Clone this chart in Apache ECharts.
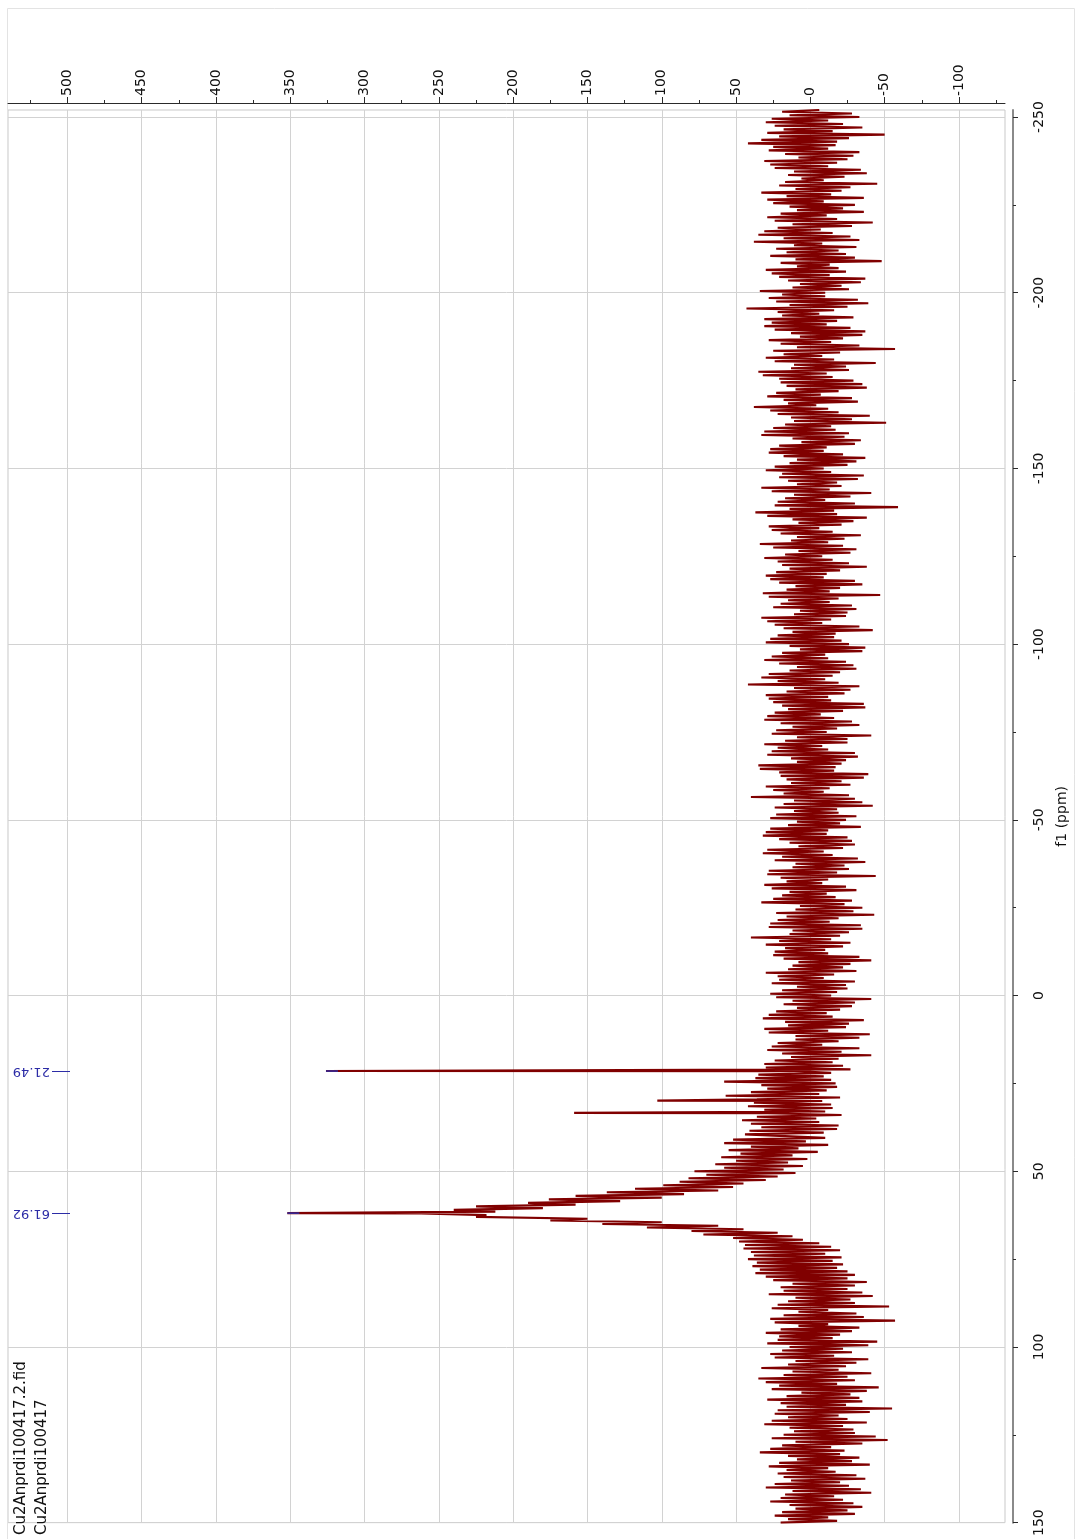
<!DOCTYPE html>
<html>
<head>
<meta charset="utf-8">
<title>f1 spectrum</title>
<script src="https://cdn.jsdelivr.net/npm/echarts@6/dist/echarts.min.js"></script>
<style>
  html, body { margin: 0; padding: 0; background: #ffffff; }
  #chart { width: 1077px; height: 1539px; }
</style>
</head>
<body>
<div id="chart"></div>
<script>
// ---- spectrum data (f1 in ppm, intensity in arbitrary units) ----

// upfield region: -252 ppm onwards, two points per ppm
const upfieldStart = -252;
const upfieldStep = 0.5;
const upfieldIntensity = [
  -6, 19, -28, 14, -33, 26, -12, 30, -22, 24, -35, 18, -15, 29, -50, 21, -26, 33, -18, 42,
  -17, 25, -12, 28, -33, 17, -29, 8, -25, 31, -18, 27, -12, 24, -34, 11, -38, 15, -23, 6,
  -9, 17, -45, 21, -27, 10, -21, 33, -14, 16, -36, 29, -9, 25, -30, 14, -22, 9, -36, 20,
  -11, 29, -18, 24, -42, 12, -28, 22, -7, 31, -15, 35, -27, 18, -33, 38, -8, 11, -31, 23,
  -19, 16, -24, 27, -30, 10, -48, 20, -13, 9, -19, 30, -24, 26, -13, 21, -37, 15, -34, 7,
  -21, 12, -26, 34, -10, 19, -10, 28, -32, 23, -39, 14, -25, 43, -16, 22, -6, 19, -29, 31,
  -18, 26, -11, 31, -27, 24, -37, 13, -35, 7, -22, 28, -14, 20, -33, 9, -57, 25, -20, 18,
  -8, 30, -16, 24, -44, 11, -24, 13, -26, 35, -11, 32, -15, 21, -29, 20, -35, 16, -38, 10,
  -19, 23, -7, 29, -28, 18, -32, 15, -4, 38, -12, 27, -19, 22, -40, 13, -28, 11, -51, 17,
  -14, 25, -17, 31, -26, 33, -23, 12, -34, 6, -30, 21, -11, 27, -9, 28, -22, 18, -37, 9,
  -31, 14, -25, 24, -9, 30, -14, 19, -36, 21, -32, 15, -18, 9, -21, 33, -13, 26, -41, 11,
  -27, 17, -10, 22, -30, 24, -59, 14, -16, 37, -18, 29, -38, 12, -29, 8, -21, 28, -6, 26,
  -15, 20, -34, 9, -23, 13, -12, 34, -22, 25, -31, 8, -27, 17, -8, 31, -15, 22, -26, 19,
  -38, 14, -20, 23, -11, 30, -9, 27, -30, 21, -35, 10, -20, 16, -13, 32, -47, 28, -19, 15,
  -13, 20, -28, 25, -31, 7, -25, 11, -24, 33, -14, 29, -8, 24, -33, 18, -42, 12, -17, 22,
  -16, 27, -21, 30, -26, 14, -37, 7, -35, 19, -10, 26, -12, 31, -24, 21, -29, 9, -31, 14,
  -20, 28, -15, 33, -10, 22, -19, 42, -33, 11, -27, 16, -23, 30, -12, 28, -14, 25, -36, 19,
  -37, 15, -22, 24, -7, 29, -16, 31, -28, 20, -33, 12, -18, 23, -11, 26, -41, 9, -25, 17,
  -25, 31, -8, 22, -12, 26, -30, 29, -32, 13, -24, 9, -21, 35, -17, 34, -16, 21, -39, 20,
  -36, 16, -21, 13, -27, 30, -13, 25, -9, 18, -26, 40, -30, 11, -35, 18, -42, 24, -18, 11,
  -19, 23, -31, 27, -24, 9, -20, 15, -34, 27, -12, 30, -11, 32, -25, 21, -28, 14, -30, 8,
  -22, 29, -9, 32, -15, 19, -32, 24, -37, 10, -23, 12, -26, 28, -18, 29, -44, 20, -12, 16,
  -8, 31, -24, 26, -31, 14, -11, 19, -17, 25, -28, 33, -23, 7, -35, 10, -29, 23, -43, 16,
  -19, 22, -13, 27, -34, 28, -35, 12, -26, 14, -20, 40, -14, 21, -27, 30, -22, 17, -10, 24,
  -12, 25, -33, 18, -41, 8, -27, 12, -22, 15, -31, 30, -16, 22, -9, 21, -30, 26, -24, 9,
  -25, 19, -18, 27, -14, 23, -41, 12, -30, 18, -28, 9, -20, 23, -11, 28, -15, 32, -36, 17,
  -26, 15, -24, 31, -12, 28, -40, 10, -33, 10, -19, 22, -8, 26, -33, 29, -21, 19, -41, 13,
  -19, 24, -15, 31, -22, 30, -27, 11, -14, 35, -9, 37, -14, 58, -17, 33, -18, 29, -11, 40,
  -6, 57, -20, 36, -8, 38, -14, 42, -15, 31, -10, 29, -21, 36, -4, 46, -6, 40, -19, 33,
  -18, 41, -9, 44
];

// broad resonance around 62 ppm: 40 ppm onwards, two points per ppm
const humpStart = 40;
const humpStep = 0.5;
const humpIntensity = [
  45, -10, 52, 3, 58, -12, 40, 8, 55, -5,
  47, 12, 60, 2, 50, 15, 64, 5, 58, 18,
  78, 10, 70, 22, 82, 30, 88, 45, 99, 52,
  118, 62, 137, 85, 158, 100, 176, 128, 190, 158,
  225, 180, 240, 212, 262, 218, 225, 150, 175, 100,
  140, 62, 110, 45, 80, 22, 72, 12, 52, 5,
  48, -6, 44, -14, 45, -20, 40, -10, 38, -21,
  42, -15, 36, -22, 39, -18, 34, -25, 37, -30,
  30
];

// downfield region: 80.5 ppm onwards, two points per ppm
const downfieldStart = 80.5;
const downfieldStep = 0.5;
const downfieldIntensity = [
  -25, 25, -38, 12, -30, 20, -25, 18, -35, 28, -42, 10, -27, 15, -30, 22, -53, 26, -12, 8,
  -31, 18, -36, 27, -57, 24, -12, 8, -33, 20, -28, 30, -20, 21, -15, 22, -45, 29, -39, 14,
  -22, 19, -28, 27, -16, 24, -39, 10, -31, 15, -24, 33, -19, 12, -41, 18, -25, 35, -30, 30,
  -18, 21, -46, 26, -38, 6, -27, 16, -33, 29, -35, 20, -24, 16, -55, 22, -40, 24, -19, 15,
  -25, 26, -38, 31, -22, 14, -29, 11, -30, 18, -44, 26, -52, 10, -35, 19, -14, 27, -23, 34,
  -20, 15, -33, 9, -28, 21, -40, 28, -12, 16, -17, 22, -31, 18, -37, 13, -20, 24, -26, 30,
  -34, 12, -41, 17, -16, 20, -22, 27, -29, 14, -35, 10, -25, 19, -30, 24, -12, 15, -18, 20
];

// sharp lines
const spikePpm = [21.49, 29.9, 33.4, 61.92];
const spikeIntensity = [326, 103, 159, 352];

// peaks carrying a shift label
const labelledPeakPpm = [21.49, 61.92];
const labelledPeakIntensity = [326, 352];
const labelledPeakText = ['21.49', '61.92'];

// axis ticks
const ppmTicks = [-250, -200, -150, -100, -50, 0, 50, 100, 150];
const ppmMinorTicks = [-225, -175, -125, -75, -25, 25, 75, 125];
const intensityTicks = [-100, -50, 0, 50, 100, 150, 200, 250, 300, 350, 400, 450, 500];
const intensityMinorTicks = [-125, -75, -25, 25, 75, 125, 175, 225, 275, 325, 375, 425, 475, 525];

const fileLines = ['Cu2Anprdi100417.2.fid', 'Cu2Anprdi100417'];

// ---- build the trace as [intensity, ppm] pairs ordered by ppm ----
function addSegment(out, start, step, values) {
  values.forEach(function (v, i) { out.push([v, start + i * step]); });
}
const trace = [];
addSegment(trace, upfieldStart, upfieldStep, upfieldIntensity);
addSegment(trace, humpStart, humpStep, humpIntensity);
addSegment(trace, downfieldStart, downfieldStep, downfieldIntensity);
spikePpm.forEach(function (p, i) { trace.push([spikeIntensity[i], p]); });
trace.sort(function (a, b) { return a[1] - b[1]; });

const FONT = 'DejaVu Sans';
const AXIS_DARK = '#2a2a2a';
const GRID_GRAY = '#d2d2d2';
const PEAK_BLUE = '#2c2ca6';
const TRACE_RED = '#800000';

const chart = echarts.init(document.getElementById('chart'), null, { renderer: 'canvas' });

const intensityExtent = { min: -131, max: 540 };
const ppmExtent = { min: -252, max: 150 };

chart.setOption({
  animation: false,
  backgroundColor: '#ffffff',
  grid: {
    left: 8, right: 63, top: 110, bottom: 6,
    show: true, borderColor: '#c9c9c9', borderWidth: 1, backgroundColor: 'transparent'
  },
  xAxis: [
    {
      type: 'value', position: 'top', inverse: true,
      min: intensityExtent.min, max: intensityExtent.max, offset: 7,
      axisLine: { show: true, onZero: false, lineStyle: { color: AXIS_DARK, width: 1 } },
      axisTick: { show: true, length: 6, customValues: intensityTicks, lineStyle: { color: AXIS_DARK } },
      axisLabel: {
        show: true, customValues: intensityTicks, rotate: -90, margin: 7,
        align: 'left', verticalAlign: 'middle',
        fontFamily: FONT, fontSize: 14, color: '#111111'
      },
      splitLine: { show: true, lineStyle: { color: GRID_GRAY, width: 1 } }
    },
    {
      type: 'value', position: 'top', inverse: true,
      min: intensityExtent.min, max: intensityExtent.max, offset: 7,
      axisLine: { show: false, onZero: false },
      axisTick: { show: true, length: 3, customValues: intensityMinorTicks, lineStyle: { color: AXIS_DARK } },
      axisLabel: { show: false },
      splitLine: { show: false }
    }
  ],
  yAxis: [
    {
      type: 'value', position: 'right', inverse: true,
      min: ppmExtent.min, max: ppmExtent.max, offset: 8,
      name: 'f1 (ppm)', nameLocation: 'middle', nameRotate: 90, nameGap: 49,
      nameTextStyle: { fontFamily: FONT, fontSize: 14, color: '#111111', align: 'center', verticalAlign: 'middle' },
      axisLine: { show: true, onZero: false, lineStyle: { color: '#8a8a8a', width: 2 } },
      axisTick: { show: true, length: 5, customValues: ppmTicks, lineStyle: { color: AXIS_DARK } },
      axisLabel: {
        show: true, customValues: ppmTicks, rotate: 90, margin: 26,
        align: 'center', verticalAlign: 'middle',
        fontFamily: FONT, fontSize: 14, color: '#111111'
      },
      splitLine: { show: true, lineStyle: { color: GRID_GRAY, width: 1 } }
    },
    {
      type: 'value', position: 'right', inverse: true,
      min: ppmExtent.min, max: ppmExtent.max, offset: 8,
      axisLine: { show: false, onZero: false },
      axisTick: { show: true, length: 3, customValues: ppmMinorTicks, lineStyle: { color: AXIS_DARK } },
      axisLabel: { show: false },
      splitLine: { show: false }
    }
  ],
  series: [
    {
      type: 'line',
      xAxisIndex: 0, yAxisIndex: 0,
      data: trace,
      showSymbol: false, symbol: 'none',
      sampling: null,
      silent: true,
      lineStyle: { color: TRACE_RED, width: 2.1, join: 'bevel' }
    }
  ]
});

// ---- overlays: page frame, file names, peak shift labels ----
const overlay = [];
overlay.push({
  type: 'rect', silent: true, z: 0,
  shape: { x: 7.5, y: 8.5, width: 1067, height: 1540 },
  style: { fill: 'none', stroke: '#e3e3e3', lineWidth: 1 }
});
overlay.push({
  type: 'text', silent: true, x: 11, y: 1535, rotation: Math.PI / 2,
  style: {
    text: fileLines.join('\n'), fill: '#111111',
    font: '15px "' + FONT + '"', lineHeight: 21,
    textAlign: 'left', textVerticalAlign: 'top'
  }
});
labelledPeakPpm.forEach(function (ppm, i) {
  const tip = chart.convertToPixel({ seriesIndex: 0 }, [labelledPeakIntensity[i], ppm]);
  const y = Math.round(tip[1]) + 0.5;
  overlay.push({
    type: 'line', silent: true, z: 10,
    shape: { x1: 52, y1: y, x2: 70, y2: y },
    style: { stroke: PEAK_BLUE, lineWidth: 1 }
  });
  overlay.push({
    type: 'line', silent: true, z: 10,
    shape: { x1: tip[0], y1: tip[1], x2: tip[0] + 12, y2: tip[1] },
    style: { stroke: PEAK_BLUE, lineWidth: 1.5 }
  });
  overlay.push({
    type: 'text', silent: true, z: 10, x: 50, y: y, rotation: Math.PI,
    style: {
      text: labelledPeakText[i], fill: PEAK_BLUE,
      font: '13px "' + FONT + '"',
      textAlign: 'left', textVerticalAlign: 'middle'
    }
  });
});
chart.setOption({ graphic: overlay });
</script>
</body>
</html>
